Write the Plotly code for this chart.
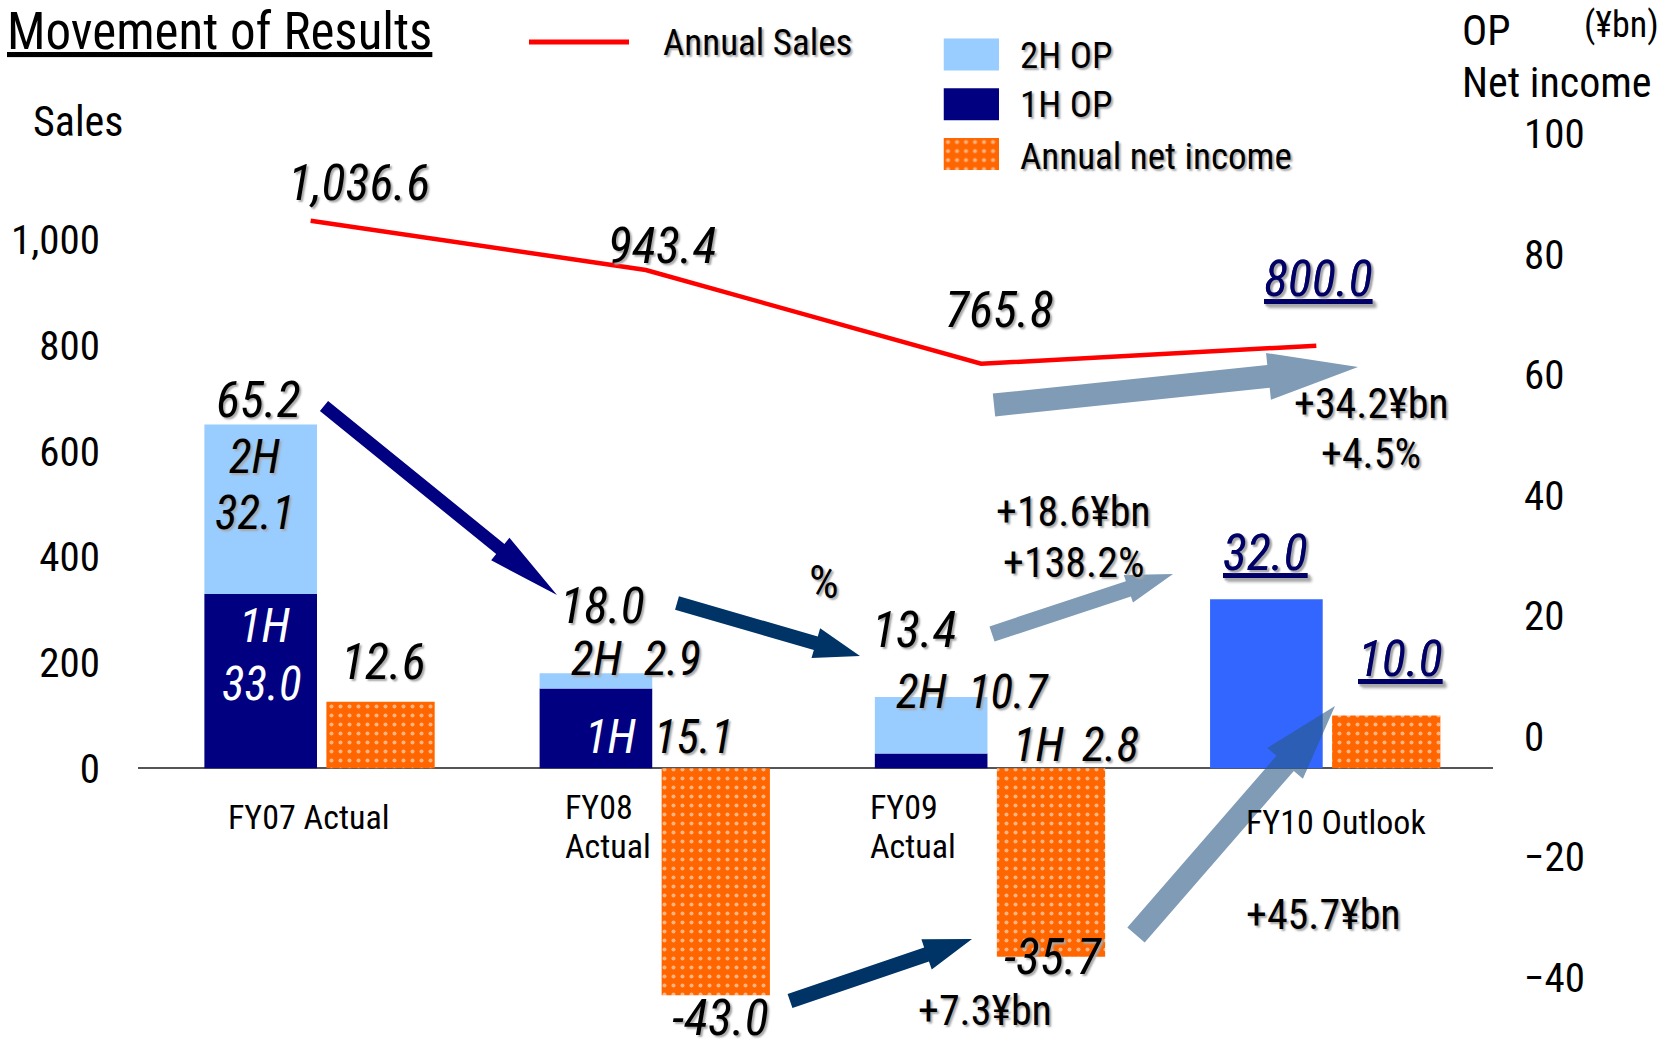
import math
import plotly.graph_objects as go

# ---------------- data ----------------
period_labels = ["FY07 Actual", "FY08 Actual", "FY09 Actual", "FY10 Outlook"]
annual_sales = [1036.6, 943.4, 765.8, 800.0]          # ¥bn, left axis
op_first_half = [33.0, 15.1, 2.8, None]               # ¥bn
op_second_half = [32.1, 2.9, 10.7, None]              # ¥bn
op_annual = [65.2, 18.0, 13.4, 32.0]                  # ¥bn
op_outlook = [None, None, None, 32.0]                 # ¥bn, FY10 full-year outlook
annual_net_income = [12.6, -43.0, -35.7, 10.0]        # ¥bn
sales_ticks = [0, 200, 400, 600, 800, 1000]
op_ticks = [-40, -20, 0, 20, 40, 60, 80, 100]
sales_change = ["+34.2¥bn", "+4.5%"]
op_change = ["+18.6¥bn", "+138.2%"]
ni_changes = ["+7.3¥bn", "+45.7¥bn"]

# ---------------- page geometry ----------------
W, H = 1666, 1050
PLOT_L, PLOT_R = 138, 1493
FONT = ("Noto Sans Condensed, Roboto Condensed, Liberation Sans Narrow, "
        "Arial Narrow, Liberation Sans, Arial, sans-serif")
SHADOW = "2px 2px 2px #a8a8a8"

NAVY = "#000080"
LIGHT_BLUE = "#99CCFF"
BRIGHT_BLUE = "#3366FF"
ORANGE = "#FF6600"
DARK_TEAL = "#003366"
STEEL = "#7F9BB5"

idx = list(range(len(period_labels)))
X_RANGE = [-0.55, 3.492]

# left axis: 0 at y=768 px, 1000 at y=240 px (full height plot area)
SALES_RANGE = [-533.6, 1454.6]
OP_SCALE = 10.0                       # OP / net income bars drawn at 1/10 of the sales scale
BAR_RANGE = [v / OP_SCALE for v in SALES_RANGE]
RIGHT_RANGE = [-52.07, 122.2]         # right-hand OP / net income tick scale


def px(x):
    return (x - PLOT_L) / (PLOT_R - PLOT_L)


def py(y):
    return 1 - y / H


def fmt(v):
    return f"{v:,.1f}"


fig = go.Figure()

# ---------------- bars ----------------
OP_OFFSET, OP_WIDTH = -0.352, 0.336
NI_OFFSET, NI_WIDTH = 0.012, 0.323

fig.add_trace(go.Bar(
    x=idx, y=op_first_half, yaxis="y2", offset=OP_OFFSET, width=OP_WIDTH,
    marker=dict(color=NAVY, line=dict(width=0)), name="1H OP", showlegend=False,
))
fig.add_trace(go.Bar(
    x=idx, y=op_second_half, base=[v if v is not None else 0 for v in op_first_half],
    yaxis="y2", offset=OP_OFFSET, width=OP_WIDTH,
    marker=dict(color=LIGHT_BLUE, line=dict(width=0)), name="2H OP", showlegend=False,
))
fig.add_trace(go.Bar(
    x=idx, y=op_outlook, yaxis="y2", offset=OP_OFFSET, width=OP_WIDTH,
    marker=dict(color=BRIGHT_BLUE, line=dict(width=0)), name="OP outlook", showlegend=False,
))
ni_marker = dict(
    color=ORANGE, line=dict(width=0),
    pattern=dict(shape=".", fgcolor="white", bgcolor=ORANGE, size=9, solidity=0.16),
)
fig.add_trace(go.Bar(
    x=idx, y=annual_net_income, yaxis="y2", offset=NI_OFFSET, width=NI_WIDTH,
    marker=ni_marker, name="Annual net income", showlegend=False,
))

# ---------------- sales line ----------------
fig.add_trace(go.Scatter(
    x=[i - 0.035 for i in idx], y=annual_sales, mode="lines",
    line=dict(color="#FF0000", width=4.5), name="Annual Sales", showlegend=False,
))

# keeps the right-hand scale rendered
fig.add_trace(go.Scatter(
    x=[idx[0]], y=[0], yaxis="y3", mode="markers",
    marker=dict(opacity=0), hoverinfo="skip", showlegend=False,
))

# ---------------- legend swatches (own small axes) ----------------
swatch_styles = [
    dict(color=LIGHT_BLUE, line=dict(width=0)),
    dict(color=NAVY, line=dict(width=0)),
    ni_marker,
]
for row, style in enumerate(swatch_styles):
    fig.add_trace(go.Bar(
        x=[1], y=[row], orientation="h", width=0.64, xaxis="x2", yaxis="y4",
        marker=style, showlegend=False, hoverinfo="skip",
    ))

# ---------------- arrows ----------------
def arrow_path(tail, tip, shaft, head_w, head_len):
    (x0, y0), (x1, y1) = tail, tip
    dx, dy = x1 - x0, y1 - y0
    length = math.hypot(dx, dy)
    ux, uy = dx / length, dy / length
    nx, ny = -uy, ux
    bx, by = x1 - ux * head_len, y1 - uy * head_len
    s, h = shaft / 2, head_w / 2
    pts = [
        (x0 + nx * s, y0 + ny * s),
        (bx + nx * s, by + ny * s),
        (bx + nx * h, by + ny * h),
        (x1, y1),
        (bx - nx * h, by - ny * h),
        (bx - nx * s, by - ny * s),
        (x0 - nx * s, y0 - ny * s),
    ]
    return "M " + " L ".join(f"{px(x):.5f},{py(y):.5f}" for x, y in pts) + " Z"


arrows = [
    # tail, tip, shaft width, head width, head length, colour
    ((324, 406), (557, 595), 13, 29, 73, NAVY),
    ((677, 603), (860, 656), 14, 31, 46, DARK_TEAL),
    ((790, 1001), (972, 939), 15, 32, 48, DARK_TEAL),
    ((992, 634), (1173, 574), 16, 29, 47, STEEL),
    ((994, 405), (1358, 367), 23, 47, 90, STEEL),
    ((1136, 935), (1335, 706), 23, 47, 76, "rgba(42,88,132,0.6)"),
]
shapes = []
for tail, tip, shaft, hw, hl, col in arrows:
    shapes.append(dict(
        type="path", xref="paper", yref="paper", layer="above",
        path=arrow_path(tail, tip, shaft, hw, hl),
        fillcolor=col, line=dict(width=0),
    ))

# legend line for sales
shapes.append(dict(
    type="line", xref="paper", yref="paper",
    x0=px(529), x1=px(629), y0=py(42), y1=py(42),
    line=dict(color="#FF0000", width=5),
))

# ---------------- text ----------------
annotations = []


def label(text, x, y, size, color="black", italic=True, shadow=True,
          underline=False, xanchor="center", yanchor="middle"):
    font = dict(family=FONT, size=size, color=color)
    if italic:
        font["style"] = "italic"
    if shadow:
        font["shadow"] = SHADOW
    if underline:
        font["lineposition"] = "under"
    annotations.append(dict(
        text=text, x=px(x), y=py(y), xref="paper", yref="paper",
        xanchor=xanchor, yanchor=yanchor, showarrow=False, font=font,
    ))


BIG = 50
MID = 47
NOTE = 42

# sales values
label(fmt(annual_sales[0]), 359, 183, BIG)
label(fmt(annual_sales[1]), 662, 246, BIG)
label(fmt(annual_sales[2]), 999, 310, BIG)
label(fmt(annual_sales[3]), 1318, 279, BIG, color="#000066", underline=True)

# FY07 OP and net income
label(fmt(op_annual[0]), 258, 400, BIG)
label("2H", 255, 457, MID)
label(fmt(op_second_half[0]), 255, 512, MID)
label("1H", 265, 625, MID, color="white", shadow=False)
label(fmt(op_first_half[0]), 262, 683, MID, color="white", shadow=False)
label(fmt(annual_net_income[0]), 383, 662, BIG)

# FY08
label(fmt(op_annual[1]), 602, 606, BIG)
label("2H", 597, 658, MID)
label(fmt(op_second_half[1]), 672, 658, MID)
label("1H", 611, 736, MID, color="white", shadow=False)
label(fmt(op_first_half[1]), 694, 736, MID)
label(fmt(annual_net_income[1]), 720, 1018, BIG)

# FY09
label(fmt(op_annual[2]), 914, 630, BIG)
label("2H", 922, 691, MID)
label(fmt(op_second_half[2]), 1009, 691, MID)
label("1H", 1039, 744, MID)
label(fmt(op_first_half[2]), 1110, 744, MID)
label(fmt(annual_net_income[2]), 1053, 957, BIG)

# FY10 outlook
label(fmt(op_outlook[3]), 1265, 553, BIG, color="#000066", underline=True)
label(fmt(annual_net_income[3]), 1400, 659, BIG, color="#000066", underline=True)

# change notes
label("%", 824, 581, MID, italic=False)
label(op_change[0], 1073, 511, NOTE, italic=False)
label(op_change[1], 1073, 562, NOTE, italic=False)
label(sales_change[0], 1371, 403, NOTE, italic=False)
label(sales_change[1], 1371, 454, NOTE, italic=False)
label(ni_changes[1], 1323, 914, NOTE, italic=False)
label(ni_changes[0], 985, 1010, NOTE, italic=False)

# period labels under the baseline
CAT = 34
label(period_labels[0], 308, 817, CAT, italic=False, shadow=False)
for (x_left, name) in [(563, period_labels[1]), (868, period_labels[2])]:
    first, second = name.split(" ")
    label(first, x_left, 807, CAT, italic=False, shadow=False, xanchor="left")
    label(second, x_left, 846, CAT, italic=False, shadow=False, xanchor="left")
label(period_labels[3], 1336, 822, CAT, italic=False, shadow=False)

# titles and axis captions
label("Movement of Results", 5, 0, 51, italic=False, shadow=False,
      underline=True, xanchor="left", yanchor="top")
label("Sales", 31, 122, 42, italic=False, shadow=False, xanchor="left")
label("OP", 1460, 30, 42, italic=False, shadow=False, xanchor="left")
label("(¥bn)", 1661, 25, 36, italic=False, shadow=False, xanchor="right")
label("Net income", 1460, 82, 42, italic=False, shadow=False, xanchor="left")

# legend texts
LEG = 37
label("Annual Sales", 661, 42, LEG, italic=False, xanchor="left")
label("2H OP", 1018, 55, LEG, italic=False, xanchor="left")
label("1H OP", 1018, 105, LEG, italic=False, xanchor="left")
label("Annual net income", 1018, 156, LEG, italic=False, xanchor="left")

# ---------------- layout ----------------
tick_font = dict(family=FONT, size=41, color="black")
fig.update_layout(
    width=W, height=H,
    margin=dict(l=PLOT_L, r=W - PLOT_R, t=0, b=0),
    paper_bgcolor="white", plot_bgcolor="white",
    barmode="overlay",
    showlegend=False,
    font=dict(family=FONT),
    xaxis=dict(range=X_RANGE, visible=False, fixedrange=True),
    yaxis=dict(
        range=SALES_RANGE, tickvals=sales_ticks, tickformat=",",
        ticks="", showgrid=False, showline=False,
        zeroline=True, zerolinecolor="#555555", zerolinewidth=2,
        tickfont=tick_font, ticklabelstandoff=37,
    ),
    yaxis2=dict(range=BAR_RANGE, overlaying="y", visible=False),
    yaxis3=dict(
        range=RIGHT_RANGE, overlaying="y", side="right", anchor="x",
        tickvals=op_ticks, ticks="", showgrid=False, zeroline=False,
        showline=False, tickfont=tick_font, ticklabelstandoff=30,
    ),
    xaxis2=dict(domain=[px(943.5), px(999)], anchor="y4", range=[0, 1], visible=False),
    yaxis4=dict(domain=[py(178.9), py(29.6)], anchor="x2", range=[2.5, -0.5], visible=False),
    shapes=shapes,
    annotations=annotations,
)

fig.write_html("out.html")
